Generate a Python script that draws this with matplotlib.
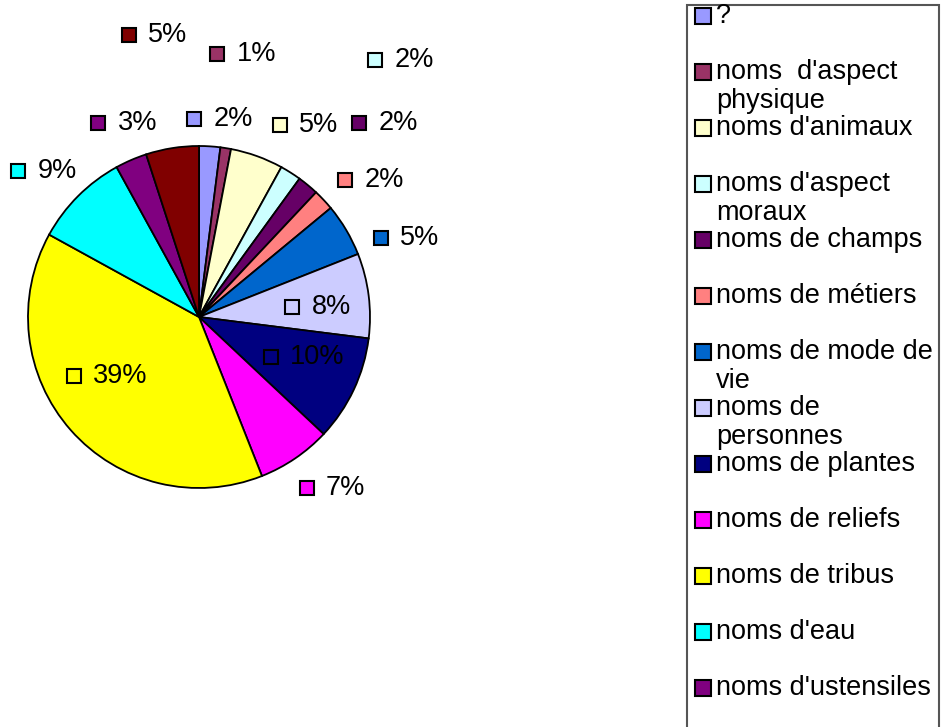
import numpy as np
import matplotlib
matplotlib.use("Agg")
import matplotlib.pyplot as plt
from matplotlib.patches import Rectangle

plt.rcParams['font.family'] = ['Liberation Sans', 'DejaVu Sans']

# data, in slice order (clockwise from 12 o'clock)
labels = ["?", "noms  d'aspect\nphysique", "noms d'animaux", "noms d'aspect\nmoraux",
          "noms de champs", "noms de métiers", "noms de mode de\nvie", "noms de\npersonnes",
          "noms de plantes", "noms de reliefs", "noms de tribus", "noms d'eau",
          "noms d'ustensiles", ""]
values = [2, 1, 5, 2, 2, 2, 5, 8, 10, 7, 39, 9, 3, 5]
colors = ["#9999FF", "#993366", "#FFFFCC", "#CCFFFF", "#660066", "#FF8080", "#0066CC",
          "#CCCCFF", "#000080", "#FF00FF", "#FFFF00", "#00FFFF", "#800080", "#800000"]

# where each percentage label sits (radius factor, angle nudge in degrees)
lab_r = [1.16, 1.54, 1.22, 1.82, 1.47, 1.17, 1.16, 0.55, 0.48, 1.18, 0.81, 1.36, 1.28, 1.70]
lab_da = [5, 5, -3, -2, 0, 0, -7, -1, -4, -2, -16, 6, 4, 5]

W, H = 946, 727
fig = plt.figure(figsize=(W / 100, H / 100), dpi=100)

cx, cy, R = 199, 317, 171
ax = fig.add_axes([(cx - R) / W, (H - cy - R) / H, 2 * R / W, 2 * R / H])
wedges, _ = ax.pie(values, colors=colors, startangle=90, counterclock=False,
                   wedgeprops=dict(edgecolor="black", linewidth=1.3))
ax.set_xlim(-1, 1)
ax.set_ylim(-1, 1)
ax.set_aspect("equal")
ax.axis("off")

total = sum(values)
for i, w in enumerate(wedges):
    mid = (w.theta1 + w.theta2) / 2 + lab_da[i]
    x = lab_r[i] * np.cos(np.radians(mid))
    y = lab_r[i] * np.sin(np.radians(mid))
    ax.plot(x, y, marker="s", markersize=9.8, markerfacecolor=colors[i],
            markeredgecolor="black", markeredgewidth=1.5, clip_on=False)
    ax.annotate("%d%%" % round(100 * values[i] / total), (x, y), xytext=(14, 0),
                textcoords="offset points", ha="left", va="center", fontsize=19.5,
                annotation_clip=False)

# legend box (cut off at the bottom, like the original)
fig.patches.append(Rectangle((687 / W, -0.05), (939 - 687) / W, 1.05 - 5 / H,
                             transform=fig.transFigure, facecolor="white",
                             edgecolor="#555555", linewidth=1.5))
for i, lab in enumerate(labels):
    if not lab:
        continue
    ypx = 16 + 56 * i
    fig.patches.append(Rectangle((695 / W, 1 - (ypx + 8) / H), 16 / W, 16 / H,
                                 transform=fig.transFigure, facecolor=colors[i],
                                 edgecolor="black", linewidth=1.5))
    for j, line in enumerate(lab.split("\n")):
        fig.text(716 / W, 1 - (ypx + 29 * j) / H, line, ha="left", va="center",
                 fontsize=19.5)

fig.savefig("out.png", dpi=100, facecolor="white")
